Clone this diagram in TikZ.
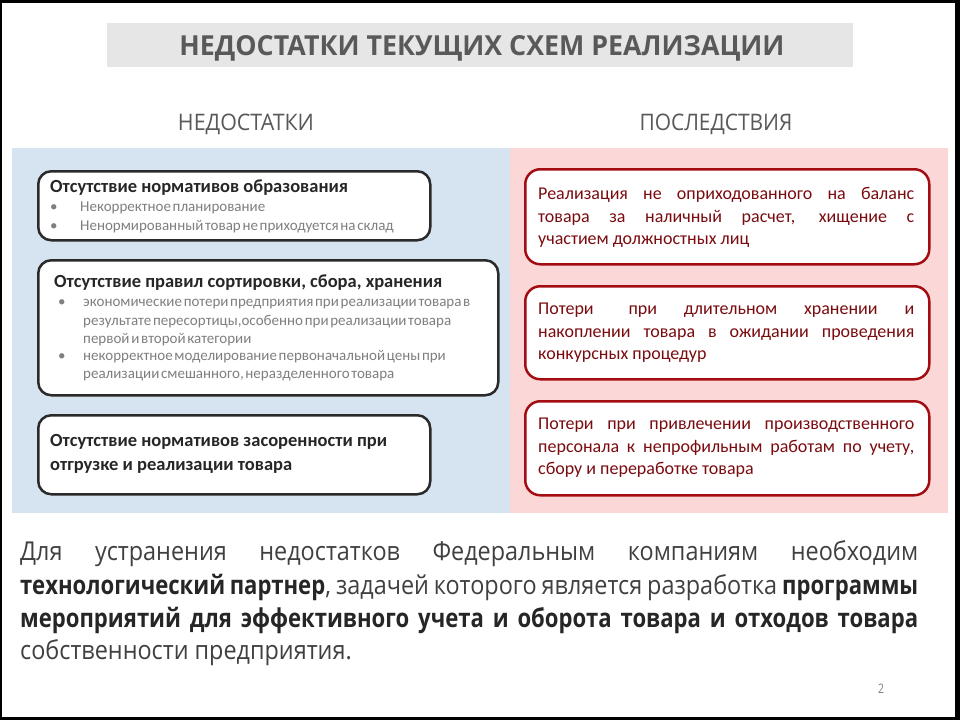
\documentclass[tikz,border=0pt]{standalone}
\usepackage{fontspec}
\usepackage{graphicx}
\setmainfont{Carlito}
\newfontfamily\cond[FakeStretch=0.8]{Open Sans}
\newfontfamily\condb[FakeStretch=0.9]{Open Sans}
\newfontfamily\condbf[FakeStretch=0.85]{Open Sans}
\newfontfamily\itemfont[WordSpace=0.5]{Carlito}
\definecolor{barGray}{HTML}{E6E6E6}
\definecolor{titleGray}{HTML}{595959}
\definecolor{panelBlue}{HTML}{D6E4F2}
\definecolor{panelPink}{HTML}{FCD7D7}
\definecolor{boxDark}{HTML}{2A2A2A}
\definecolor{boxRed}{HTML}{A30D12}
\definecolor{redText}{HTML}{7A0C10}
\definecolor{headText}{HTML}{262626}
\definecolor{itemText}{HTML}{7F7F7F}
\definecolor{bodyText}{HTML}{404040}
\newcommand{\bt}[1]{\textcolor{headText}{\condbf\bfseries #1}}
\begin{document}
\begin{tikzpicture}[x=1pt,y=-1pt,
  lbox/.style={draw=boxDark, line width=2.5pt, rounded corners=13pt, fill=white, anchor=north west, inner sep=0},
  rbox/.style={draw=boxRed, line width=2.5pt, rounded corners=15pt, fill=white, anchor=north west, inner sep=0},
  txt/.style={inner sep=0, anchor=base west},
  rline/.style={txt, text=redText, font=\fontsize{18}{22.5}\selectfont},
  ltitle/.style={txt, text=headText, font=\fontsize{18.5}{24}\selectfont\bfseries},
  bul/.style={txt, text=itemText, font=\itemfont\fontsize{15}{18}\selectfont},
  bodyline/.style={txt, text=bodyText, font=\condb\fontsize{26}{33}\selectfont}
]
\fill[black] (0,0) rectangle (960,720);
\fill[white] (2,3) rectangle (955,717);
\useasboundingbox (0,0) rectangle (960,720);

% title
\node[fill=barGray, minimum width=746pt, minimum height=44pt, anchor=north west, inner sep=0] (bar) at (107,23) {};
\node[anchor=base, inner sep=0, text=titleGray] (title) at (482,55) {\resizebox{605pt}{20pt}{\cond\bfseries НЕДОСТАТКИ ТЕКУЩИХ СХЕМ РЕАЛИЗАЦИИ}};

% headings
\node[anchor=base, inner sep=0, text=titleGray] (hL) at (246,130) {\resizebox{136pt}{16.5pt}{\cond НЕДОСТАТКИ}};
\node[anchor=base, inner sep=0, text=titleGray] (hR) at (716,130) {\resizebox{153pt}{16.5pt}{\cond ПОСЛЕДСТВИЯ}};

% panels
\node[fill=panelBlue, anchor=north west, inner sep=0, minimum width=498pt, minimum height=365pt] (pL) at (12,148) {};
\node[fill=panelPink, anchor=north west, inner sep=0, minimum width=438pt, minimum height=365pt] (pR) at (510,148) {};

% left boxes
\node[lbox, minimum width=392pt, minimum height=69pt] (b1) at (37,170) {};
\node[lbox, minimum width=460pt, minimum height=135pt] (b2) at (37,259) {};
\node[lbox, minimum width=392pt, minimum height=79pt] (b3) at (37,414) {};

\node[ltitle] (t1) at (50,192) {Отсутствие нормативов образования};
\node[bul] (d11) at (50,211) {•};
\node[bul] (i11) at (80,211) {Некорректное планирование};
\node[bul] (d12) at (50,230) {•};
\node[bul] (i12) at (80,230) {Ненормированный товар не приходуется на склад};

\node[ltitle] (t2) at (54,287) {Отсутствие правил сортировки, сбора, хранения};
\node[bul] (d21) at (58,306) {•};
\node[bul] (i21a) at (83,306) {экономические потери предприятия при реализации товара в};
\node[bul] (i21b) at (83,325) {результате пересортицы,особенно при реализации товара};
\node[bul] (i21c) at (83,343) {первой и второй категории};
\node[bul] (d22) at (58,360) {•};
\node[bul] (i22a) at (83,360) {некорректное моделирование первоначальной цены при};
\node[bul] (i22b) at (83,378) {реализации смешанного, неразделенного товара};

\node[ltitle] (t3) at (50,446) {Отсутствие нормативов засоренности при};
\node[ltitle] (t3b) at (50,470) {отгрузке и реализации товара};

% right boxes
\node[rbox, minimum width=404pt, minimum height=95pt] (r1) at (524,168) {};
\node[rbox, minimum width=404pt, minimum height=93pt] (r2) at (524,285) {};
\node[rbox, minimum width=404pt, minimum height=94pt] (r3) at (524,400) {};

\node[rline] (rt1a) at (538,199) {\makebox[376pt][s]{Реализация не оприходованного на баланс}};
\node[rline] (rt1b) at (538,222) {\makebox[376pt][s]{товара за наличный расчет, хищение с}};
\node[rline] (rt1c) at (538,244) {участием должностных лиц};
\node[rline] (rt2a) at (538,314) {\makebox[376pt][s]{Потери\hspace{8pt} при длительном хранении и}};
\node[rline] (rt2b) at (538,337) {\makebox[376pt][s]{накоплении товара в ожидании проведения}};
\node[rline] (rt2c) at (538,359) {конкурсных процедур};
\node[rline] (rt3a) at (538,429) {\makebox[376pt][s]{Потери при привлечении производственного}};
\node[rline] (rt3b) at (538,452) {\makebox[376pt][s]{персонала к непрофильным работам по учету,}};
\node[rline] (rt3c) at (538,474) {сбору и переработке товара};

% bottom paragraph
\node[bodyline] (l1) at (20,560) {\makebox[898pt][s]{Для устранения недостатков Федеральным компаниям необходим}};
\node[bodyline] (l2) at (20,594) {\makebox[898pt][s]{\bt{технологический партнер}, задачей которого является разработка \bt{программы}}};
\node[bodyline] (l3) at (20,627) {\makebox[898pt][s]{\bt{мероприятий для эффективного учета и оборота товара и отходов товара}}};
\node[bodyline] (l4) at (20,659) {собственности предприятия.};

\node[anchor=base, inner sep=0, text=itemText, font=\cond\fontsize{13}{15}\selectfont] (pg) at (881,693) {2};
\end{tikzpicture}
\end{document}
